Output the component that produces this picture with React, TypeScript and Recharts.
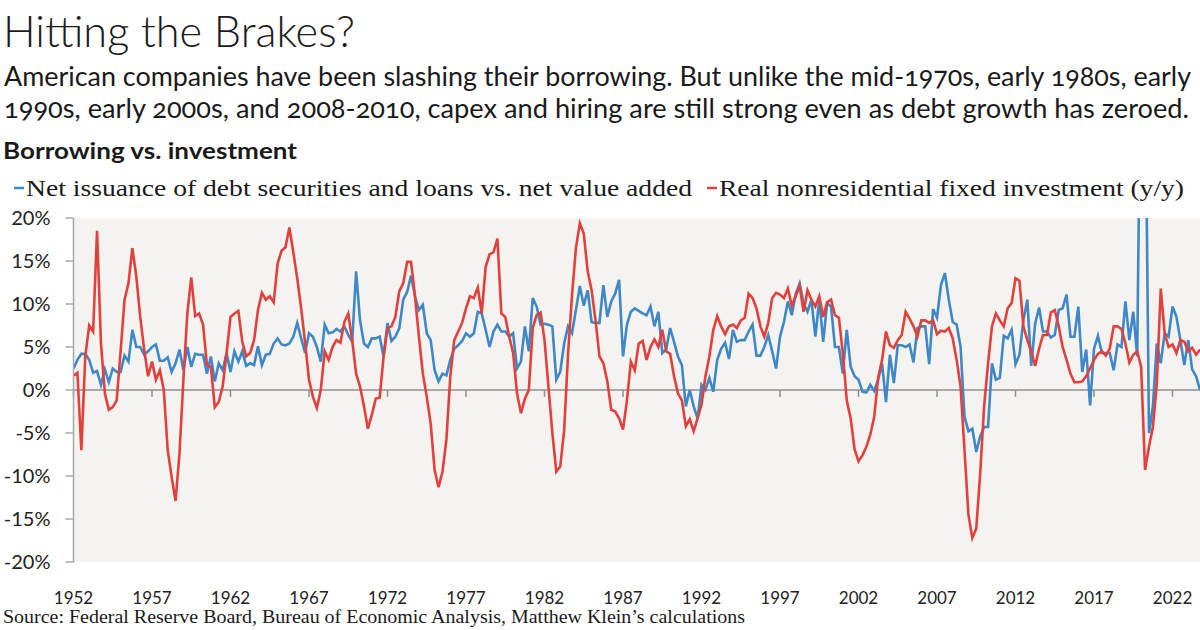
import React from 'react';
import { LineChart, Line, XAxis, YAxis, CartesianGrid, ReferenceLine } from 'recharts';

const START_YEAR = 1952;

// Net issuance of debt securities and loans vs. net value added (%), quarterly from 1952Q1
const debtVsValueAdded = [
  2.5, 3.5, 4.2, 4.2, 3.5, 2.0, 2.2, 0.6, 2.4, 0.9, 2.5, 2.1, 2.1, 4.0, 3.3, 7.0, 5.0, 5.0, 4.1, 4.5,
  5.0, 5.3, 3.4, 3.4, 3.8, 2.1, 3.1, 4.7, 2.3, 5.0, 2.7, 4.2, 4.1, 4.1, 1.9, 3.9, 1.0, 3.1, 2.3, 4.3,
  2.1, 4.5, 3.3, 4.5, 2.8, 3.1, 2.9, 5.1, 2.9, 4.1, 4.2, 5.4, 6.0, 5.3, 5.2, 5.4, 6.2, 7.8, 6.0, 4.3,
  6.6, 6.2, 5.0, 3.3, 7.6, 6.6, 6.7, 7.1, 6.8, 7.4, 6.4, 5.6, 13.8, 8.1, 5.4, 5.0, 6.0, 6.0, 6.2, 3.9,
  7.8, 5.7, 6.2, 7.2, 10.5, 11.4, 13.3, 10.9, 9.3, 9.9, 6.6, 5.8, 2.3, 1.0, 1.9, 1.7, 3.5, 4.8, 5.2, 5.7,
  6.6, 6.2, 6.6, 9.1, 8.9, 7.0, 5.0, 6.8, 7.6, 6.8, 6.8, 6.2, 6.6, 2.5, 3.3, 7.4, 4.5, 10.7, 9.7, 7.6,
  7.7, 7.6, 7.4, 1.2, 2.1, 5.4, 7.4, 6.6, 9.3, 12.1, 9.8, 11.6, 7.9, 7.8, 7.8, 12.2, 8.5, 10.3, 11.2, 12.8,
  3.9, 7.6, 9.1, 9.5, 9.2, 8.9, 8.7, 9.7, 7.4, 9.1, 4.3, 4.7, 7.2, 5.6, 3.9, 2.9, -1.9, 0.0, -1.9, -3.3,
  0.6, 0.0, 1.4, -0.2, 3.5, 4.8, 5.5, 3.6, 7.0, 5.6, 5.8, 5.8, 6.8, 7.6, 4.0, 4.0, 5.0, 6.4, 4.5, 2.5,
  6.2, 7.9, 10.3, 8.7, 11.2, 12.4, 10.1, 9.1, 10.5, 6.2, 10.5, 5.6, 10.1, 9.7, 5.0, 5.0, 1.9, 7.0, 2.7, 1.6,
  1.2, -0.2, -0.3, 0.6, -0.1, 1.2, 3.1, -1.4, 4.1, 0.8, 5.2, 5.2, 5.0, 5.3, 3.2, 7.2, 7.4, 7.4, 3.0, 9.4,
  8.4, 12.2, 13.6, 10.5, 7.9, 7.6, 5.0, -3.1, -4.8, -4.5, -7.2, -5.4, -4.3, -4.3, 3.1, 1.2, 1.4, 6.3, 6.0, 7.0,
  3.0, 4.1, 8.1, 10.5, 2.8, 7.7, 9.6, 6.8, 6.8, 6.1, 6.4, 9.3, 9.5, 11.1, 6.2, 6.2, 9.7, 2.1, 4.7, -1.8,
  4.8, 6.3, 4.3, 4.3, 4.3, 2.3, 5.3, 5.0, 10.3, 5.8, 9.1, 3.9, 45.0, 40.0, -5.0, -1.9, 5.4, 3.1, 6.6, 6.2,
  9.7, 8.5, 5.8, 2.9, 5.8, 2.4, 1.6, 0.0,
];

// Real nonresidential fixed investment, y/y (%), quarterly from 1952Q1
const investmentYoY = [
  1.7, 2.0, -7.0, 3.9, 7.5, 6.8, 18.5, 5.4, -0.4, -2.3, -2.0, -1.2, 4.5, 10.5, 12.4, 16.5, 13.2, 8.5, 4.7, 1.6,
  3.3, 1.2, 2.3, 0.0, -7.0, -10.1, -12.9, -7.4, 1.2, 8.9, 13.1, 8.6, 8.9, 7.6, 2.9, 2.7, -2.0, -1.4, 0.4, 4.3,
  8.5, 8.9, 9.2, 5.6, 3.9, 4.3, 5.8, 9.3, 11.3, 10.5, 10.9, 10.2, 14.7, 16.2, 16.6, 18.9, 16.0, 13.0, 9.5, 5.5,
  1.2, -0.8, -2.1, 0.0, 4.5, 3.5, 5.0, 5.8, 5.5, 7.9, 8.9, 5.8, 1.9, 0.4, -1.9, -4.5, -2.9, -1.0, -0.9, 3.9,
  7.2, 7.4, 8.5, 11.5, 12.4, 14.9, 14.9, 10.9, 6.2, 1.9, -0.8, -3.9, -9.3, -11.3, -9.5, -5.8, 1.6, 5.8, 6.8, 7.8,
  9.5, 10.9, 10.7, 11.9, 8.9, 14.3, 15.8, 16.0, 17.6, 8.9, 8.5, 6.2, 4.3, -0.4, -2.7, -1.0, 0.0, 7.2, 8.7, 9.0,
  5.8, 0.4, -5.0, -9.5, -8.9, -4.7, 4.2, 11.0, 16.5, 19.4, 18.2, 13.8, 11.6, 8.1, 3.9, 3.1, 1.0, -2.3, -2.5, -3.3,
  -4.6, -1.2, 3.3, 2.3, 5.4, 5.7, 3.5, 5.0, 5.9, 5.0, 7.0, 4.5, 4.2, 1.6, -0.4, -1.2, -4.2, -3.4, -4.8, -3.3,
  -1.7, 1.6, 3.9, 7.0, 8.6, 7.4, 6.5, 7.4, 7.6, 7.2, 8.1, 8.4, 11.2, 10.7, 9.5, 7.4, 6.2, 7.8, 10.7, 11.3,
  11.1, 10.7, 11.8, 9.8, 10.9, 12.1, 9.1, 11.6, 10.5, 9.7, 10.9, 8.5, 10.2, 10.5, 8.7, 8.4, 4.3, -1.2, -3.3, -6.9,
  -8.3, -7.6, -6.6, -5.2, -3.1, 1.4, 3.5, 6.8, 5.2, 4.9, 5.8, 6.4, 9.1, 8.3, 7.4, 6.2, 8.1, 8.1, 7.8, 8.1,
  6.5, 6.9, 6.8, 7.2, 6.0, 3.5, 0.4, -7.0, -14.5, -17.2, -16.1, -9.7, -1.9, 3.1, 7.4, 8.9, 8.1, 7.4, 9.5, 10.1,
  13.0, 12.7, 7.4, 5.8, 4.5, 2.8, 4.8, 6.4, 6.4, 9.0, 9.3, 7.4, 5.0, 3.5, 1.9, 0.9, 0.9, 1.0, 1.6, 2.5,
  3.5, 4.2, 4.5, 4.0, 4.8, 7.4, 7.4, 7.1, 5.4, 3.2, 4.1, 4.5, 2.7, -9.3, -6.6, -4.3, 0.8, 11.8, 6.6, 5.0,
  5.3, 4.3, 5.8, 5.6, 4.5, 4.9, 4.1, 4.7,
];

const yearTicks = [1952, 1957, 1962, 1967, 1972, 1977, 1982, 1987, 1992, 1997, 2002, 2007, 2012, 2017, 2022];
const percentTicks = [-20, -15, -10, -5, 0, 5, 10, 15, 20];

const TITLE = 'Hitting the Brakes?';
const SUBTITLE_1 = 'American companies have been slashing their borrowing. But unlike the mid-1970s, early 1980s, early';
const SUBTITLE_2 = '1990s, early 2000s, and 2008-2010, capex and hiring are still strong even as debt growth has zeroed.';
const CHART_LABEL = 'Borrowing vs. investment';
const LEGEND_DEBT = 'Net issuance of debt securities and loans vs. net value added';
const LEGEND_INVEST = 'Real nonresidential fixed investment (y/y)';
const SOURCE = 'Source: Federal Reserve Board, Bureau of Economic Analysis, Matthew Klein\u2019s calculations';

const BLUE = '#3f88c7';
const RED = '#e2403d';

const data = debtVsValueAdded.map((v, i) => ({
  t: START_YEAR + i / 4,
  debt: v,
  invest: investmentYoY[i],
}));

const SANS = 'Lato, "Open Sans", sans-serif';
const SERIF = '"Liberation Serif", "DejaVu Serif", serif';

export default function App() {
  return (
    <div style={{ position: 'absolute', left: 0, top: 0, width: 1200, height: 630, background: '#ffffff', overflow: 'hidden' }}>
      <LineChart width={1200} height={630} data={data} margin={{ top: 218, right: 0, bottom: 0, left: 0 }}>
        <CartesianGrid horizontal={false} vertical={false} fill="#f5f3f0" />
        <XAxis
          dataKey="t"
          type="number"
          domain={[1952, 2023.75]}
          ticks={yearTicks}
          interval={0}
          allowDataOverflow
          axisLine={false}
          tickLine={false}
          tickSize={0}
          tickMargin={30}
          height={68}
          tick={{ fontFamily: SANS, fontSize: 17, fill: '#222' }}
        />
        <YAxis
          type="number"
          domain={[-20, 20]}
          ticks={percentTicks}
          interval={0}
          allowDataOverflow
          width={73.5}
          tickFormatter={(v: number) => `${v}%`}
          axisLine={{ stroke: '#a8a8a8', strokeWidth: 1.5 }}
          tickLine={{ stroke: '#a8a8a8', strokeWidth: 1.5 }}
          tickSize={8}
          tickMargin={15}
          tick={{ fontFamily: SANS, fontSize: 20, fill: '#222' }}
        />
        <ReferenceLine y={0} stroke="#8f8f8f" strokeWidth={1.5} />
        {yearTicks.map((yr) => (
          <ReferenceLine
            key={yr}
            segment={[{ x: yr, y: 0 }, { x: yr, y: -0.8 }]}
            stroke="#8f8f8f"
            strokeWidth={1.5}
          />
        ))}
        <Line type="linear" dataKey="debt" stroke={BLUE} strokeWidth={2.6} dot={false} isAnimationActive={false} />
        <Line type="linear" dataKey="invest" stroke={RED} strokeWidth={2.6} dot={false} isAnimationActive={false} />
      </LineChart>

      <svg width={1200} height={210} style={{ position: 'absolute', left: 0, top: 0 }}>
        <text x={3} y={47} fontFamily={SANS} fontWeight={300} fontSize={43} fill="#1a1a1a" textLength={352} lengthAdjust="spacingAndGlyphs">
          {TITLE}
        </text>
        <text x={4} y={86} fontFamily={SANS} fontSize={26} fill="#1a1a1a" textLength={1187} lengthAdjust="spacingAndGlyphs" style={{ fontVariantNumeric: 'oldstyle-nums' }}>
          {SUBTITLE_1}
        </text>
        <text x={4} y={118} fontFamily={SANS} fontSize={26} fill="#1a1a1a" textLength={1185} lengthAdjust="spacingAndGlyphs" style={{ fontVariantNumeric: 'oldstyle-nums' }}>
          {SUBTITLE_2}
        </text>
        <text x={3} y={159} fontFamily={SANS} fontWeight={700} fontSize={22} fill="#1a1a1a" textLength={294} lengthAdjust="spacingAndGlyphs">
          {CHART_LABEL}
        </text>
        <line x1={14} x2={24} y1={188} y2={188} stroke={BLUE} strokeWidth={2.5} />
        <text x={26} y={196} fontFamily={SERIF} fontSize={24} fill="#1a1a1a" textLength={666} lengthAdjust="spacingAndGlyphs">
          {LEGEND_DEBT}
        </text>
        <line x1={707} x2={717} y1={188} y2={188} stroke={RED} strokeWidth={2.5} />
        <text x={719} y={196} fontFamily={SERIF} fontSize={24} fill="#1a1a1a" textLength={465} lengthAdjust="spacingAndGlyphs">
          {LEGEND_INVEST}
        </text>
      </svg>

      <svg width={1200} height={30} style={{ position: 'absolute', left: 0, top: 600 }}>
        <text x={3} y={23} fontFamily={SERIF} fontSize={18} fill="#1a1a1a" textLength={742} lengthAdjust="spacingAndGlyphs">
          {SOURCE}
        </text>
      </svg>
    </div>
  );
}
